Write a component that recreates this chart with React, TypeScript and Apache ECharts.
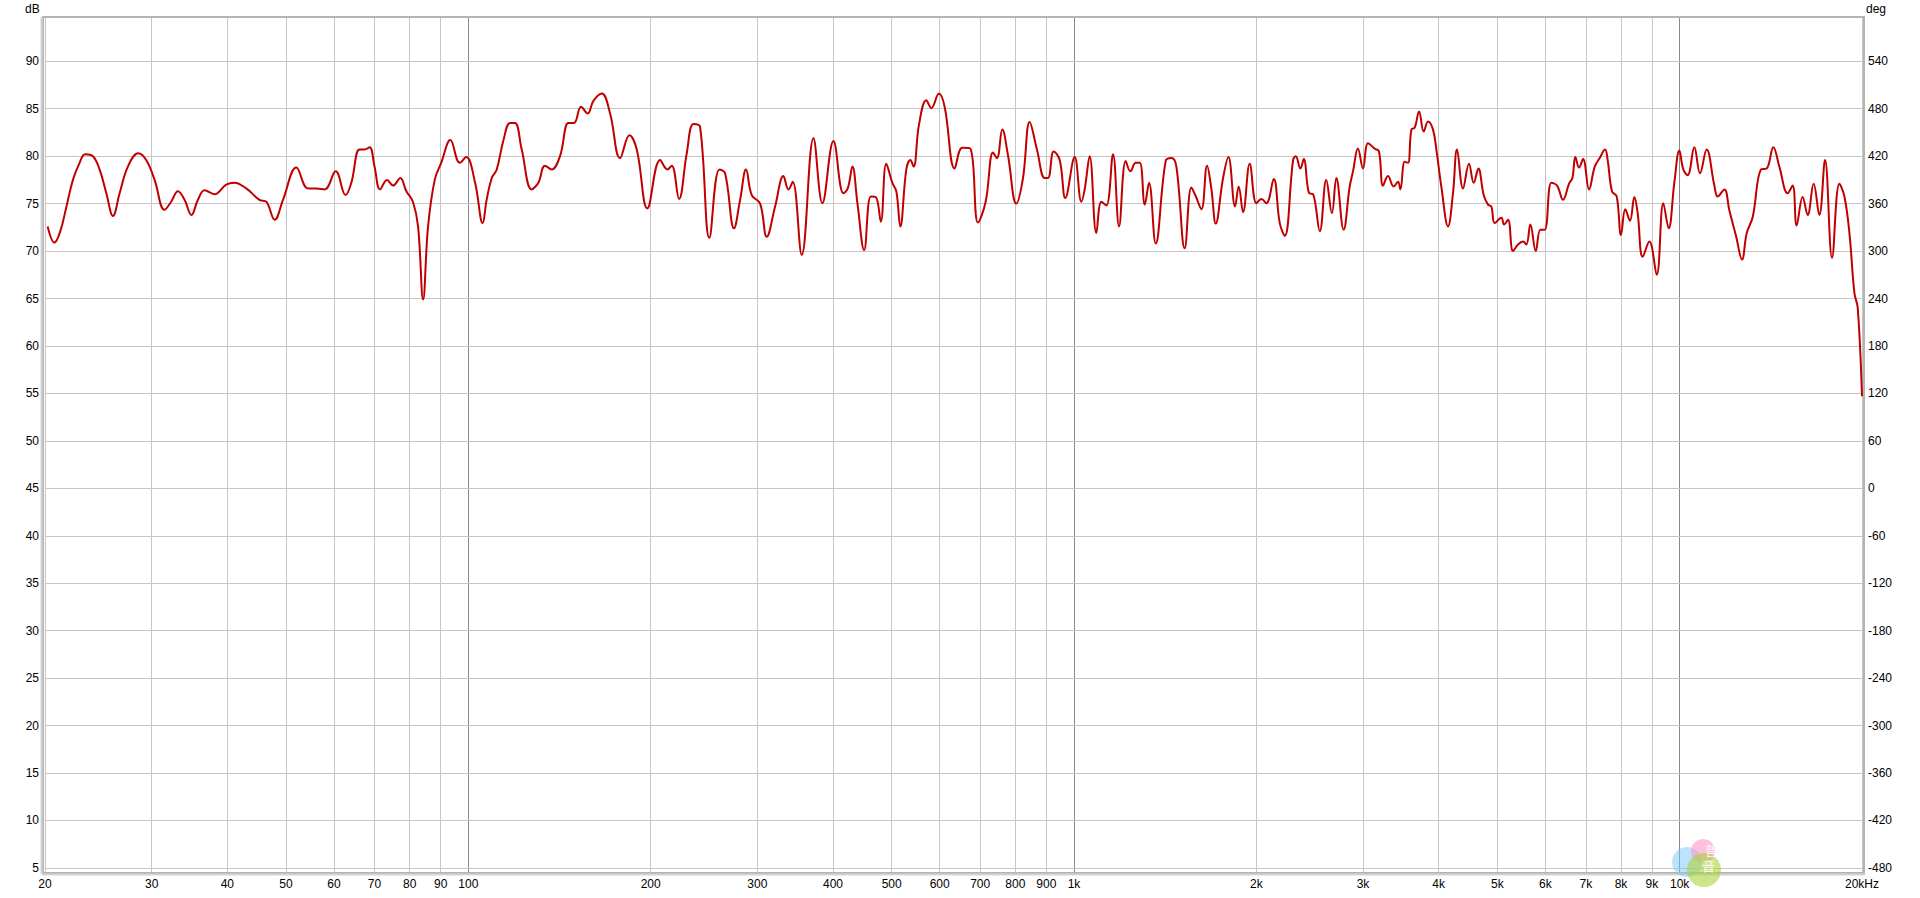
import React, { useEffect, useRef } from "react";
import * as echarts from "echarts";

// Frequency response (REW style)
const FREQ_HZ: number[] = [
  20.2, 20.74, 21.2, 21.7, 22.24, 22.81, 23.3, 23.99, 24.61, 25.25, 25.9, 26.56, 27.41, 28.5, 29.38,
  30.34, 31.5, 32.31, 33.15, 34.0, 34.9, 35.77, 36.69, 38.1, 39.83, 41.1, 42.98, 45.2, 46.38, 47.9,
  49.43, 52.0, 54.35, 56.1, 57.9, 60.4, 62.7, 64.1, 66.1, 67.4, 68.7, 70.0, 71.5, 73.4, 75.1, 77.2,
  79.0, 81.0, 82.6, 84.2, 85.8, 88.0, 90.2, 93.4, 96.8, 99.2,
  102.6, 105.6, 107.2, 109.3, 111.4, 114.3, 117.2, 119.4, 122.5, 127.2, 130.5, 133.8, 137.3, 141.7,
  146.3, 149.4, 153.5, 157.4, 160.8, 166.1, 171.4, 178.0, 184.5, 189.7, 197.5, 207.3, 213.2, 216.7,
  222.8, 229.4, 235.3, 241.3, 250.0, 259.7, 265.4, 274.6, 281.0, 287.4, 293.7, 303.2, 310.9, 321.0,
  331.3, 337.7, 343.2, 355.2, 371.4, 384.2, 400.7, 416.2, 423.1, 430.7, 438.9, 450.3, 461.8, 470.6,
  479.7,
  489.8, 501.2, 508.9, 516.7, 528.6, 536.7, 543.5, 554.6, 570.3, 581.3, 598.4, 611.5, 635.2, 654.0,
  674.2, 694.2, 714.7, 734.9, 746.1, 761.4, 778.0, 802.9, 823.7, 844.8, 868.6, 894.4, 906.0, 925.6,
  947.0, 967.6, 1002.5, 1028.3, 1041.4, 1061.3, 1088.6, 1109.5, 1130.8, 1159.9, 1186.7, 1217.3,
  1239.2, 1264.6, 1284.2, 1308.8, 1330.0, 1364.3, 1417.1, 1447.9, 1475.8, 1523.3, 1562.4, 1588.2,
  1622.9, 1658.4, 1686.1, 1714.0, 1762.5, 1798.5, 1844.6, 1870.3, 1901.5, 1950.3, 2000.3, 2038.9,
  2077.9, 2136.9, 2186.2, 2228.3, 2299.9, 2323.3, 2364.9, 2395.2, 2444.2, 2481.6, 2545.3,
  2609, 2666, 2711, 2787, 2852, 2888, 2943, 3000, 3058, 3136, 3188, 3237, 3299, 3371, 3427, 3458,
  3515, 3560, 3606, 3652, 3713, 3779, 3841, 3915, 3965, 4041, 4145, 4224, 4289, 4388, 4489, 4570,
  4652, 4747, 4825, 4887, 4950, 5077, 5129, 5207, 5307, 5409, 5513, 5583, 5669, 5786, 5889, 5986,
  6139, 6274, 6418, 6567, 6650, 6727, 6821, 6926, 7086, 7240, 7379, 7530,
  7605, 7731, 7871, 8000, 8133, 8279, 8417, 8524, 8688, 8911, 9163, 9397, 9590, 9799, 9987, 10140,
  10309, 10573, 10803, 11080, 11410, 11555, 11852, 12078, 12389, 12675, 12904, 13201, 13622, 13920,
  14277, 14606, 15077, 15365, 15601, 15960, 16266, 16641, 17004, 17378, 17847, 18351, 18707, 19065,
  19430, 19679, 20000,
];

const LEVEL_DB: number[] = [
  72.6, 70.9, 72.1, 74.7, 77.5, 79.3, 80.2, 80.0, 78.6, 76.1, 73.7, 76.1, 78.9, 80.3, 79.6,
  77.5, 74.35, 75.2, 76.3, 75.4, 73.8, 75.4, 76.4, 76.0, 77.0, 77.2, 76.6, 75.4, 75.2, 73.3,
  75.4, 78.8, 76.6, 76.6, 76.5, 78.4, 75.9, 77.2, 80.7, 80.7, 80.95, 78.9, 76.5, 77.5, 76.9, 77.7,
  76.3, 75.2, 72.6, 64.9, 72.6, 77.5, 79.3, 81.7, 79.3, 79.9,
  77.2, 72.95, 75.4, 77.7, 78.6, 81.7, 83.5, 83.5, 80.7, 76.5, 77.2, 79.0, 78.6, 80.0,
  83.5, 83.5, 85.2, 84.5, 85.8, 86.6, 84.5, 79.8, 82.2, 80.7, 74.5, 79.6, 78.6, 79.0,
  75.5, 80.3, 83.4, 83.1, 71.4, 78.6, 78.2, 72.4, 75.4, 78.6, 75.9, 75.0, 71.5, 74.7,
  77.9, 76.5, 77.3, 69.6, 81.9, 75.05, 81.6, 76.1, 76.6, 78.9, 75.05, 70.1, 75.75, 75.7,
  73.1,
  79.2, 77.2, 76.3, 72.6, 78.6, 79.6, 78.9, 83.3, 85.9, 85.05, 86.6, 85.2, 78.7, 80.9,
  80.8, 73.0, 75.2, 80.4, 79.8, 82.8, 80.1, 75.0, 77.7, 83.6, 80.7, 77.7, 77.7, 80.5,
  79.6, 75.6, 79.9, 75.2, 76.5, 80.0, 71.9, 75.2, 74.8, 80.2, 72.6, 79.5,
  78.4, 79.3, 79.3, 74.9, 77.2, 70.8, 79.5, 79.8, 78.9, 70.3, 76.7, 75.8,
  74.4, 79.0, 76.5, 72.9, 77.7, 79.9, 74.7, 76.8, 74.1, 79.2, 75.05, 75.5,
  75.05, 77.6, 72.95, 71.6, 79.6, 80.0, 78.7, 79.7, 76.1, 76.0, 72.1,
  77.5, 74.0, 77.7, 72.25, 76.8, 78.4, 80.8, 78.7, 81.35, 80.8, 80.5, 76.9, 77.9, 76.8, 77.3, 76.5,
  79.4, 79.3, 82.8, 83.0, 84.7, 82.6, 83.65, 82.8, 80.7, 76.8, 72.6, 76.1, 80.7, 76.6, 79.2, 77.2,
  78.7, 75.9, 74.9, 74.7, 72.95, 73.5, 72.8, 73.3, 70.0, 70.7, 71.0, 70.7, 72.8, 70.0, 72.25, 72.25,
  77.2, 76.9, 75.4, 77.1, 77.7, 79.9, 78.8, 79.7, 76.5, 78.9, 79.8, 80.7,
  79.6, 76.3, 75.75, 71.7, 74.4, 73.2, 75.7, 74.0, 69.4, 71.0, 67.5, 75.05, 72.4, 77.2, 80.6, 78.6,
  78.0, 80.95, 78.2, 80.7, 76.9, 75.75, 76.5, 74.3, 71.6, 69.1, 71.9, 73.6, 78.6, 78.7,
  80.95, 78.9, 76.1, 76.9, 72.7, 75.7, 73.8, 77.1, 73.8, 79.6, 69.3, 77.1, 75.75, 71.9,
  65.6, 64.0, 54.7,
];

// Axis ticks and labels
const DB_TICKS: number[] = [5, 10, 15, 20, 25, 30, 35, 40, 45, 50, 55, 60, 65, 70, 75, 80, 85, 90];
const DEG_TICKS: number[] = [-480, -420, -360, -300, -240, -180, -120, -60, 0, 60, 120, 180, 240, 300, 360, 420, 480, 540];
const FREQ_TICKS: number[] = [
  20, 30, 40, 50, 60, 70, 80, 90, 100, 200, 300, 400, 500, 600, 700, 800, 900,
  1000, 2000, 3000, 4000, 5000, 6000, 7000, 8000, 9000, 10000, 20000,
];
const FREQ_LABELS: string[] = [
  "20", "30", "40", "50", "60", "70", "80", "90", "100", "200", "300", "400", "500", "600", "700", "800", "900",
  "1k", "2k", "3k", "4k", "5k", "6k", "7k", "8k", "9k", "10k", "20kHz",
];
const DECADE_LINES: number[] = [100, 1000, 10000];

const FONT = "'Liberation Sans', Arial, Helvetica, sans-serif";

export default function App() {
  const ref = useRef<HTMLDivElement>(null);

  useEffect(() => {
    if (!ref.current) return;
    const chart = echarts.init(ref.current, undefined, { renderer: "svg" });

    const curve = FREQ_HZ.map((f, i) => [f, LEVEL_DB[i]]);

    const baseLabel = {
      show: true,
      color: "#000",
      fontSize: 12,
      fontFamily: FONT,
    };

    const xLines = FREQ_TICKS.map((f, i) => ({
      xAxis: f,
      lineStyle: {
        color: DECADE_LINES.includes(f) ? "#8a8a8a" : "#c6c6c6",
        width: 1,
        type: "solid",
      },
      label: { ...baseLabel, position: "start", distance: 6, formatter: FREQ_LABELS[i] },
    }));

    const yLines = DB_TICKS.map((v) => ({
      yAxis: v,
      lineStyle: { color: "#c6c6c6", width: 1, type: "solid" },
      label: { ...baseLabel, position: "start", distance: 6, formatter: String(v) },
    }));

    const degLines = DEG_TICKS.map((v) => ({
      yAxis: v,
      lineStyle: { color: "rgba(0,0,0,0)", width: 1, type: "solid" },
      label: { ...baseLabel, position: "end", distance: 6, formatter: String(v) },
    }));

    const option: any = {
      animation: false,
      backgroundColor: "#ffffff",
      grid: { left: 45, right: 58, top: 18, bottom: 26, containLabel: false },
      xAxis: {
        type: "log",
        logBase: 10,
        min: 20,
        max: 20000,
        show: false,
      },
      yAxis: [
        { type: "value", min: 4.57, max: 94.56, show: false },
        { type: "value", min: -485.16, max: 594.72, show: false, position: "right" },
      ],
      series: [
        {
          type: "line",
          name: "grid-db",
          data: [[20, 50]],
          showSymbol: false,
          symbol: "none",
          lineStyle: { opacity: 0 },
          silent: true,
          z: 1,
          markLine: {
            silent: true,
            symbol: ["none", "none"],
            animation: false,
            data: [...xLines, ...yLines],
          },
        },
        {
          type: "line",
          name: "grid-deg",
          yAxisIndex: 1,
          data: [[20, 0]],
          showSymbol: false,
          symbol: "none",
          lineStyle: { opacity: 0 },
          silent: true,
          z: 1,
          markLine: {
            silent: true,
            symbol: ["none", "none"],
            animation: false,
            data: degLines,
          },
        },
        {
          type: "line",
          name: "SPL",
          data: curve,
          showSymbol: false,
          symbol: "none",
          smooth: 0.4,
          z: 10,
          lineStyle: { color: "#c00000", width: 2 },
        },
      ],
      graphic: [
        {
          type: "rect",
          z: 100,
          silent: true,
          shape: { x: 43, y: 17, width: 1821, height: 856 },
          style: { fill: "none", stroke: "#b4b4b4", lineWidth: 2 },
        },
        {
          type: "line",
          z: 100,
          silent: true,
          shape: { x1: 41.5, y1: 17, x2: 41.5, y2: 874 },
          style: { stroke: "#d4d4d4", lineWidth: 2 },
        },
        {
          type: "line",
          z: 100,
          silent: true,
          shape: { x1: 42, y1: 874.5, x2: 1865, y2: 874.5 },
          style: { stroke: "#d4d4d4", lineWidth: 2 },
        },
        {
          type: "text",
          z: 100,
          left: 25,
          top: 3,
          style: { text: "dB", fill: "#000", font: `12px ${FONT}` },
        },
        {
          type: "text",
          z: 100,
          left: 1866,
          top: 3,
          style: { text: "deg", fill: "#000", font: `12px ${FONT}` },
        },
        {
          type: "circle",
          z: 110,
          silent: true,
          shape: { cx: 1687, cy: 862, r: 15 },
          style: { fill: "rgba(120,200,250,0.5)" },
        },
        {
          type: "circle",
          z: 111,
          silent: true,
          shape: { cx: 1703, cy: 851, r: 12 },
          style: { fill: "rgba(255,150,200,0.6)" },
        },
        {
          type: "circle",
          z: 112,
          silent: true,
          shape: { cx: 1704, cy: 870, r: 17 },
          style: { fill: "rgba(170,210,60,0.6)" },
        },
        {
          type: "text",
          z: 113,
          x: 1705,
          y: 843,
          style: { text: "普", fill: "rgba(255,255,255,0.9)", font: `13px 'Noto Sans CJK SC'` },
        },
        {
          type: "text",
          z: 113,
          x: 1702,
          y: 859,
          style: { text: "音", fill: "rgba(255,255,255,0.9)", font: `13px 'Noto Sans CJK SC'` },
        },
      ],
    };

    chart.setOption(option);
    return () => chart.dispose();
  }, []);

  return (
    <div
      ref={ref}
      style={{ position: "absolute", left: 0, top: 0, width: 1920, height: 898 }}
    />
  );
}
